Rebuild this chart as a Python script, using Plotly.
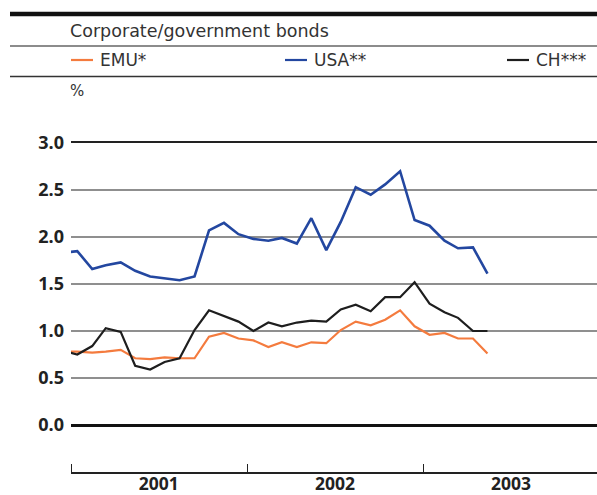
import plotly.graph_objects as go
import pandas as pd

# ---- data (monthly, mid-month observations, Dec 2000 .. May 2003) ----
months = pd.date_range(start="2000-12-01", periods=30, freq="MS") + pd.Timedelta(days=13)
emu = [0.78, 0.78, 0.77, 0.78, 0.80, 0.71, 0.70, 0.72, 0.71, 0.71, 0.94, 0.98, 0.92,
       0.90, 0.83, 0.88, 0.83, 0.88, 0.87, 1.01, 1.10, 1.06, 1.12, 1.22, 1.05, 0.96,
       0.98, 0.92, 0.92, 0.76]
usa = [1.83, 1.85, 1.66, 1.70, 1.73, 1.64, 1.58, 1.56, 1.54, 1.58, 2.07, 2.15, 2.03,
       1.98, 1.96, 1.99, 1.93, 2.20, 1.86, 2.16, 2.53, 2.45, 2.56, 2.70, 2.18, 2.12,
       1.96, 1.88, 1.89, 1.61]
ch = [0.79, 0.75, 0.84, 1.03, 0.99, 0.63, 0.59, 0.67, 0.71, 1.01, 1.22, 1.16, 1.10,
      1.00, 1.09, 1.05, 1.09, 1.11, 1.10, 1.23, 1.28, 1.21, 1.36, 1.36, 1.52, 1.29,
      1.20, 1.14, 1.00, 1.00]
series_names = ["EMU*", "USA**", "CH***"]
series_colors = ["#F47B3E", "#2347A0", "#1E1E1E"]
year_labels = ["2001", "2002", "2003"]
year_label_pos = ["2001-07-02", "2002-07-02", "2003-07-02"]
year_ticks = ["2001-01-01", "2002-01-01", "2003-01-01"]
y_ticks = [0.0, 0.5, 1.0, 1.5, 2.0, 2.5, 3.0]
title_text = "Corporate/government bonds"
unit_text = "%"

W, H = 597, 495
L, R, T, B = 71, 0, 143, 23
pw, ph = W - L - R, H - T - B

def px(x):
    return (x - L) / pw

def py(y):
    return (H - B - y) / ph

FONT = "DejaVu Sans"
TFONT = "Open Sans"
fig = go.Figure()
for name, vals, col, w in zip(series_names, [emu, usa, ch], series_colors, [2.2, 2.6, 2.2]):
    fig.add_trace(go.Scatter(x=months, y=vals, mode="lines", name=name,
                             line=dict(color=col, width=w), showlegend=False,
                             cliponaxis=True))

shapes = []
# header rules
shapes.append(dict(type="line", xref="paper", yref="paper", x0=px(10), x1=px(597),
                   y0=py(14), y1=py(14), line=dict(color="#111111", width=4.5)))
shapes.append(dict(type="line", xref="paper", yref="paper", x0=px(10), x1=px(597),
                   y0=py(46), y1=py(46), line=dict(color="#8c8c8c", width=2)))
shapes.append(dict(type="line", xref="paper", yref="paper", x0=px(10), x1=px(597),
                   y0=py(76.5), y1=py(76.5), line=dict(color="#333333", width=1.3)))

annotations = [
    dict(text=title_text, xref="paper", yref="paper", x=px(68), y=py(31),
         xanchor="left", yanchor="middle", showarrow=False,
         font=dict(family=FONT, size=17.5, color="#333333")),
    dict(text=unit_text, xref="paper", yref="paper", x=px(68), y=py(91),
         xanchor="left", yanchor="middle", showarrow=False,
         font=dict(family=FONT, size=15, color="#333333")),
]
leg_x = [71, 285, 507]
for name, col, lx in zip(series_names, series_colors, leg_x):
    shapes.append(dict(type="line", xref="paper", yref="paper", x0=px(lx), x1=px(lx + 22),
                       y0=py(60), y1=py(60), line=dict(color=col, width=2.2)))
    annotations.append(dict(text=name, xref="paper", yref="paper", x=px(lx + 27), y=py(60),
                            xanchor="left", yanchor="middle", showarrow=False,
                            font=dict(family=FONT, size=17, color="#333333")))

fig.update_layout(
    width=W, height=H,
    margin=dict(l=L, r=R, t=T, b=B, autoexpand=False),
    paper_bgcolor="white", plot_bgcolor="white",
    showlegend=False,
    shapes=shapes, annotations=annotations,
    xaxis=dict(type="date", range=["2001-01-01", "2003-12-27"],
               tickmode="array", tickvals=year_label_pos, ticktext=year_labels,
               ticks="", showgrid=False, zeroline=False,
               showline=True, linecolor="#222222", linewidth=1.5, mirror=True,
               tickfont=dict(family=TFONT, size=17.5, color="#222222", weight="bold"),
               ticklabelstandoff=-5,
               minor=dict(tickmode="array", tickvals=year_ticks, ticks="inside",
                          ticklen=8, tickwidth=1.3, tickcolor="#222222", showgrid=False),
               fixedrange=True),
    yaxis=dict(range=[-0.5, 3.0], tickmode="array", tickvals=y_ticks,
               tickformat=".1f", ticks="", showgrid=True, gridcolor="#8f8f8f",
               gridwidth=1.6, zeroline=True, zerolinecolor="#111111", zerolinewidth=3,
               showline=False, ticklabelstandoff=6,
               tickfont=dict(family=TFONT, size=18, color="#222222", weight="bold"),
               fixedrange=True),
)

fig.write_html("out.html", config={"displayModeBar": False},
               post_script="document.body.style.margin='0';")
